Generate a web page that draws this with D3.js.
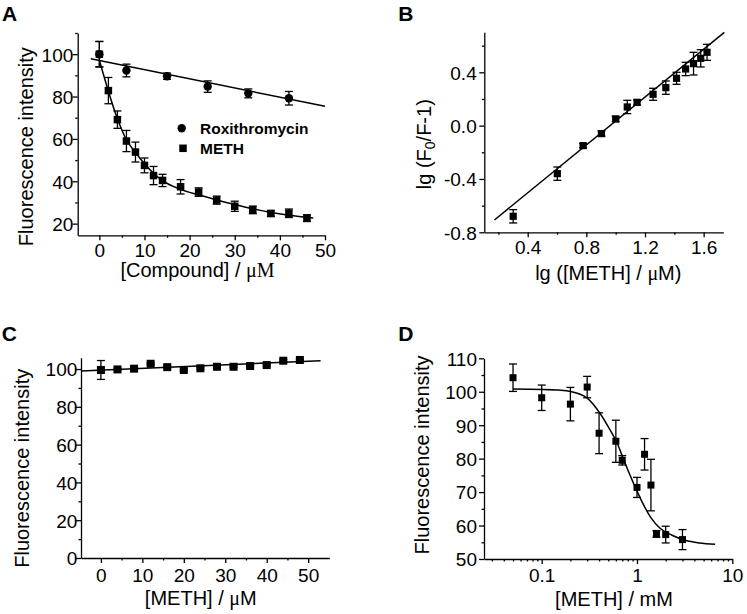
<!DOCTYPE html>
<html><head><meta charset="utf-8">
<script src="https://cdn.jsdelivr.net/npm/d3@7"></script>
<style>
body{margin:0;background:#fff;}
svg{display:block;}
text{font-family:"Liberation Sans",Arial,sans-serif;fill:#000;}
</style></head><body>
<svg id="c" width="747" height="614"></svg>
<script>
// ---------- Panel A ----------
const aRoxX = [0, 6, 15, 24, 33, 42];
const aRoxY = [100, 92.3, 89.6, 84.7, 81.5, 79.2];
const aRoxErr = [6, 3, 1.5, 2.7, 2.1, 3.2];
const aRoxFitX = [-1.9, 50];
const aRoxFitY = [97.8, 75.4];
const aMethX = [0, 2, 4, 6, 8, 10, 12, 14, 18, 22, 26, 30, 34, 38, 42, 46];
const aMethY = [100, 82.8, 69.1, 59, 53.8, 47.5, 42.7, 40.4, 37.4, 34.9, 31.1, 28.2, 26.5, 24.8, 24.9, 22.6];
const aMethErr = [6, 6.2, 4.1, 5, 4.7, 3.5, 4.3, 2.9, 3.4, 2, 1.9, 2.4, 1.8, 1.4, 2, 1.6];
const aMethFitX = [0, 2, 4, 6, 8, 10, 12, 14, 18, 22, 26, 30, 34, 38, 42, 47.4];
const aMethFitY = [97.2, 82.5, 69.5, 59.6, 53.6, 48.3, 43.8, 40.3, 36.2, 33.6, 31.2, 29.0, 27.0, 25.3, 24.0, 22.7];
const aXTicks = [0, 10, 20, 30, 40, 50];
const aXMinor = [5, 15, 25, 35, 45];
const aYTicks = [20, 40, 60, 80, 100];
const aYMinor = [30, 50, 70, 90, 110];
const aLegend = ["Roxithromycin", "METH"];

// ---------- Panel B ----------
const bX = [0.301, 0.602, 0.778, 0.903, 1.0, 1.079, 1.146, 1.255, 1.342, 1.415, 1.477, 1.531, 1.58, 1.623];
const bY = [-0.68, -0.36, -0.15, -0.06, 0.05, 0.14, 0.175, 0.235, 0.285, 0.355, 0.425, 0.465, 0.505, 0.55];
const bErr = [0.05, 0.05, 0.015, 0.02, 0.02, 0.05, 0.02, 0.045, 0.05, 0.045, 0.05, 0.085, 0.065, 0.06];
const bFitX = [0.173, 1.741];
const bFitY = [-0.7075, 0.70];
const bXTicks = [0.4, 0.8, 1.2, 1.6];
const bXMinor = [0.2, 0.6, 1.0, 1.4];
const bYTicks = [-0.8, -0.4, 0.0, 0.4];
const bYMinor = [-0.6, -0.2, 0.2, 0.6];

// ---------- Panel C ----------
const cX = [0, 4, 8, 12, 16, 20, 24, 28, 32, 36, 40, 44, 48];
const cY = [99.5, 99.8, 100.2, 102.8, 101, 99.5, 100.4, 101.2, 101.2, 101.6, 102.1, 104.4, 104.8];
const cErr = [5, 0.5, 0.5, 0.5, 0.5, 0.5, 0.5, 0.5, 0.5, 0.5, 0.5, 0.5, 0.5];
const cFitX = [-4.8, 53];
const cFitY = [98.9, 104.4];
const cXTicks = [0, 10, 20, 30, 40, 50];
const cXMinor = [5, 15, 25, 35, 45];
const cYTicks = [0, 20, 40, 60, 80, 100];
const cYMinor = [10, 30, 50, 70, 90];

// ---------- Panel D ----------
const dX = [0.05, 0.1, 0.2, 0.3, 0.4, 0.6, 0.7, 1.0, 1.2, 1.4, 1.6, 2, 3];
const dY = [104.2, 98.2, 96.3, 101.4, 87.6, 85.2, 79.5, 71.4, 81.3, 72.1, 57.5, 57.3, 55.8];
const dErr = [4.1, 3.8, 5, 3.2, 6.1, 6.3, 1.4, 3, 4.7, 7.7, 1, 2.5, 3];
const dFitX = [0.05, 0.1, 0.15, 0.2, 0.3, 0.41, 0.5, 0.62, 0.75, 0.92, 1.13, 1.38, 1.76, 2.33, 3.2, 4.5, 6.6];
const dFitY = [100.8, 100.7, 100.5, 100.1, 98.1, 93.5, 89.5, 84.6, 78.6, 72.6, 67.1, 62.6, 59.1, 57.1, 55.6, 54.8, 54.4];
const dXTicks = [0.1, 1, 10];
const dXMinor = [0.03, 0.04, 0.05, 0.06, 0.07, 0.08, 0.09, 0.2, 0.3, 0.4, 0.5, 0.6, 0.7, 0.8, 0.9, 2, 3, 4, 5, 6, 7, 8, 9];
const dYTicks = [50, 60, 70, 80, 90, 100, 110];
const dYMinor = [55, 65, 75, 85, 95, 105];

const svg = d3.select("#c");
svg.append("rect").attr("width", 747).attr("height", 614).attr("fill", "#fff");
const FONT = '"Liberation Sans",Arial,sans-serif';
const SERIF = '"Liberation Serif","Times New Roman",serif';

function axes(x, y, o) {
  const g = svg.append("g");
  const ax = y.range()[0], ay = x.range()[0];
  const gx = g.append("g").attr("transform", `translate(0,${ax})`);
  gx.append("g").call(d3.axisBottom(x).tickValues(o.xMinor).tickSize(2.5).tickSizeOuter(0).tickFormat(""))
    .call(s => s.select(".domain").remove());
  gx.append("g").call(d3.axisBottom(x).tickValues(o.xMajor).tickSize(5).tickSizeOuter(0).tickFormat(o.xFmt))
    .call(s => s.selectAll("text").attr("y", o.xLab).attr("dy", 0));
  const gy = g.append("g").attr("transform", `translate(${ay},0)`);
  gy.append("g").call(d3.axisLeft(y).tickValues(o.yMinor).tickSize(2.5).tickSizeOuter(0).tickFormat(""))
    .call(s => s.select(".domain").remove());
  gy.append("g").call(d3.axisLeft(y).tickValues(o.yMajor).tickSize(5).tickSizeOuter(0).tickFormat(o.yFmt))
    .call(s => s.selectAll("text").attr("x", o.yLab).attr("dy", "0.36em"));
  g.selectAll("g").attr("font-family", FONT).attr("font-size", 19);
  g.selectAll("path.domain, line").attr("stroke", "#000").attr("stroke-width", 1.3);
  g.selectAll("text").attr("fill", "#000");
  return g;
}

function fit(x, y, xs, ys, curve) {
  const pts = xs.map((v, i) => [v, ys[i]]);
  svg.append("path").datum(pts)
    .attr("d", d3.line().x(d => x(d[0])).y(d => y(d[1])).curve(curve || d3.curveLinear))
    .attr("fill", "none").attr("stroke", "#000").attr("stroke-width", 1.5);
}

function errs(x, y, xs, ys, es, cap) {
  const g = svg.append("g").attr("stroke", "#000").attr("stroke-width", 1.3);
  xs.forEach((v, i) => {
    const px = x(v), t = y(ys[i] + es[i]), b = y(ys[i] - es[i]);
    g.append("line").attr("x1", px).attr("x2", px).attr("y1", t).attr("y2", b);
    g.append("line").attr("x1", px - cap).attr("x2", px + cap).attr("y1", t).attr("y2", t);
    g.append("line").attr("x1", px - cap).attr("x2", px + cap).attr("y1", b).attr("y2", b);
  });
}

function squares(x, y, xs, ys, s) {
  svg.append("g").selectAll("rect").data(xs).join("rect")
    .attr("x", (d) => x(d) - s / 2).attr("y", (d, i) => y(ys[i]) - s / 2)
    .attr("width", s).attr("height", s).attr("fill", "#000");
}
function circles(x, y, xs, ys, r) {
  svg.append("g").selectAll("circle").data(xs).join("circle")
    .attr("cx", d => x(d)).attr("cy", (d, i) => y(ys[i])).attr("r", r).attr("fill", "#000");
}

function label(txt, x, y) {
  svg.append("text").attr("x", x).attr("y", y).attr("font-size", 21).attr("font-weight", "bold").text(txt);
}
function xTitle(cx, by) {
  return svg.append("text").attr("x", cx).attr("y", by).attr("text-anchor", "middle").attr("font-size", 20);
}
function yTitle(cy, bx) {
  return svg.append("text").attr("transform", `translate(${bx},${cy}) rotate(-90)`)
    .attr("text-anchor", "middle").attr("font-size", 20);
}

// ===== Panel A =====
{
  const x = d3.scaleLinear().domain([-4.8, 50]).range([77.7, 325]);
  const y = d3.scaleLinear().domain([14.5, 110]).range([235.3, 33]);
  axes(x, y, {xMajor: aXTicks, xMinor: aXMinor, yMajor: aYTicks, yMinor: aYMinor,
    xFmt: d3.format("d"), yFmt: d3.format("d"), xLab: 21.5, yLab: -4.4});
  fit(x, y, aRoxFitX, aRoxFitY);
  fit(x, y, aMethFitX, aMethFitY, d3.curveMonotoneX);
  errs(x, y, aRoxX, aRoxY, aRoxErr, 4);
  errs(x, y, aMethX, aMethY, aMethErr, 4);
  circles(x, y, aRoxX, aRoxY, 4.2);
  squares(x, y, aMethX, aMethY, 7.5);
  // legend
  svg.append("circle").attr("cx", 181.7).attr("cy", 128.3).attr("r", 4.2).attr("fill", "#000");
  svg.append("rect").attr("x", 183 - 3.75).attr("y", 148.3 - 3.75).attr("width", 7.5).attr("height", 7.5).attr("fill", "#000");
  svg.append("text").attr("x", 200).attr("y", 133.8).attr("font-size", 15.5).attr("font-weight", "bold").text(aLegend[0]);
  svg.append("text").attr("x", 200).attr("y", 153.8).attr("font-size", 15.5).attr("font-weight", "bold").text(aLegend[1]);
  const t = xTitle(197.5, 276.5);
  t.append("tspan").text("[Compound] / ");
  t.append("tspan").attr("font-family", SERIF).text("μM");
  yTitle(146.7, 32.6).text("Fluorescence intensity");
  label("A", 2, 20.7);
}

// ===== Panel B =====
{
  const x = d3.scaleLinear().domain([0.104, 1.734]).range([484.3, 723.3]);
  const y = d3.scaleLinear().domain([-0.8, 0.7]).range([232.3, 32.3]);
  axes(x, y, {xMajor: bXTicks, xMinor: bXMinor, yMajor: bYTicks, yMinor: bYMinor,
    xFmt: d => d.toFixed(1), yFmt: d => d.toFixed(1), xLab: 22, yLab: -7.6});
  fit(x, y, bFitX, bFitY);
  errs(x, y, bX, bY, bErr, 4);
  squares(x, y, bX, bY, 7.2);
  const tx = xTitle(608.3, 279.5);
  tx.append("tspan").text("lg ([METH] / ");
  tx.append("tspan").attr("font-family", SERIF).text("μ");
  tx.append("tspan").text("M)");
  const t = yTitle(144.2, 431);
  t.append("tspan").text("lg (F");
  t.append("tspan").attr("font-size", 14).attr("dy", 4).text("0");
  t.append("tspan").attr("dy", -4).text("/F-1)");
  label("B", 398.3, 20.7);
}

// ===== Panel C =====
{
  const x = d3.scaleLinear().domain([-4.8, 55.1]).range([81, 329.3]);
  const y = d3.scaleLinear().domain([0, 106]).range([558, 357.7]);
  axes(x, y, {xMajor: cXTicks, xMinor: cXMinor, yMajor: cYTicks, yMinor: cYMinor,
    xFmt: d3.format("d"), yFmt: d3.format("d"), xLab: 23.5, yLab: -3.7});
  fit(x, y, cFitX, cFitY);
  errs(x, y, cX, cY, cErr, 4);
  squares(x, y, cX, cY, 8);
  const tx = xTitle(200.8, 604.5);
  tx.append("tspan").text("[METH] / ");
  tx.append("tspan").attr("font-family", SERIF).text("μ");
  tx.append("tspan").text("M");
  yTitle(468.3, 29.3).text("Fluorescence intensity");
  label("C", 1.7, 340.7);
}

// ===== Panel D =====
{
  const x = d3.scaleLog().domain([0.0248, 10]).range([484, 732.3]);
  const y = d3.scaleLinear().domain([50, 110]).range([559, 358.3]);
  axes(x, y, {xMajor: dXTicks, xMinor: dXMinor, yMajor: dYTicks, yMinor: dYMinor,
    xFmt: d => String(d), yFmt: d3.format("d"), xLab: 23, yLab: -7});
  fit(x, y, dFitX, dFitY, d3.curveMonotoneX);
  errs(x, y, dX, dY, dErr, 4);
  squares(x, y, dX, dY, 7);
  xTitle(614, 605.5).text("[METH] / mM");
  yTitle(455, 429.3).text("Fluorescence intensity");
  label("D", 398.3, 341);
}
</script>
</body></html>
